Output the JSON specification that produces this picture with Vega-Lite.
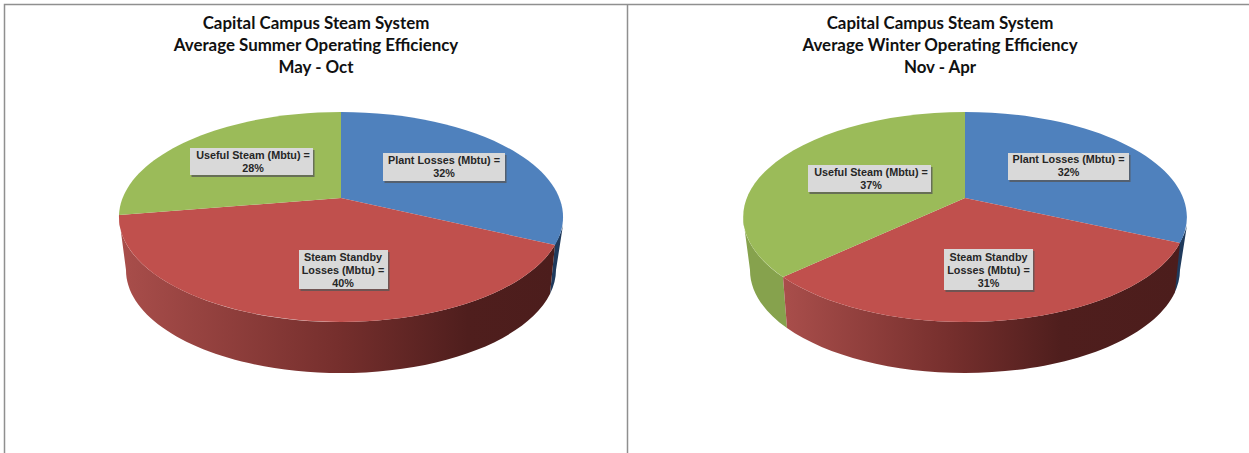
{
  "$schema": "https://vega.github.io/schema/vega-lite/v6.json",
  "width": 1249,
  "height": 453,
  "padding": 0,
  "autosize": "none",
  "background": "white",
  "config": {"view": {"stroke": null}},
  "resolve": {"scale": {"shape": "independent", "fill": "independent"}},
  "data": {"values": [
    {"panel": "Summer", "slice": "Plant", "share": 32, "key": "Summer Plant", "label": "Plant Losses (Mbtu) =\n32%"},
    {"panel": "Summer", "slice": "Standby", "share": 40, "key": "Summer Standby", "label": "Steam Standby\nLosses (Mbtu) =\n40%"},
    {"panel": "Summer", "slice": "Useful", "share": 28, "key": "Summer Useful", "label": "Useful Steam (Mbtu) =\n28%"},
    {"panel": "Winter", "slice": "Plant", "share": 32, "key": "Winter Plant", "label": "Plant Losses (Mbtu) =\n32%"},
    {"panel": "Winter", "slice": "Standby", "share": 31, "key": "Winter Standby", "label": "Steam Standby\nLosses (Mbtu) =\n31%"},
    {"panel": "Winter", "slice": "Useful", "share": 37, "key": "Winter Useful", "label": "Useful Steam (Mbtu) =\n37%"}
  ]},
  "encoding": {
    "x": {"field": "panel", "type": "nominal", "axis": null,
      "scale": {"type": "point", "domain": ["Summer", "Winter"], "range": [341, 965], "padding": 0}}
  },
  "layer": [
    {
      "transform": [{"filter": "datum.key === 'Summer Plant'"}],
      "mark": {"type": "point", "filled": false, "opacity": 1, "yOffset": -9.5, "stroke": "#8f8f8f", "strokeWidth": 1.5,
        "shape": "M-336.5,236 L-336.5,-212.5 L908,-212.5 M286.5,-212.5 L286.5,236"},
      "encoding": {"size": {"value": 4}}
    },
    {
      "transform": [{"filter": "datum.key === 'Summer Plant' || datum.key === 'Winter Plant'"}],
      "mark": {"type": "point", "filled": true, "opacity": 1, "yOffset": -9.5, "fill": "#1f3a5c",
        "shape": "M222,8 L215,53 A215,103 0 0 1 209,77 L214,27 A222,105 0 0 0 222,8 Z"},
      "encoding": {"size": {"value": 4}}
    },
    {
      "transform": [{"filter": "datum.key === 'Winter Useful'"}],
      "mark": {"type": "point", "filled": true, "opacity": 1, "yOffset": -9.5, "fill": "#86a24d",
        "shape": "M-222,0 A222,105 0 0 0 -182,60 L-178,111 A215,103 0 0 1 -215,53 Z"},
      "encoding": {"size": {"value": 4}}
    },
    {
      "transform": [{"filter": "datum.key === 'Summer Standby'"}],
      "mark": {"type": "point", "filled": true, "opacity": 1, "yOffset": -9.5,
        "shape": "M214,28 A222,105 0 0 1 0,105 A222,105 0 0 1 -222,0 L-215,53 A215,103 0 0 0 0,156 A215,103 0 0 0 209,77 Z",
        "fill": {"gradient": "linear", "x1": 0, "x2": 1, "y1": 0, "y2": 0, "stops": [
          {"offset": 0, "color": "#a94e4b"},
          {"offset": 0.5, "color": "#762f2d"},
          {"offset": 0.8, "color": "#4f1e1d"},
          {"offset": 1, "color": "#4c1d1c"}
        ]}},
      "encoding": {"size": {"value": 4}}
    },
    {
      "transform": [{"filter": "datum.key === 'Winter Standby'"}],
      "mark": {"type": "point", "filled": true, "opacity": 1, "yOffset": -9.5,
        "shape": "M215,26 A222,105 0 0 1 0,105 A222,105 0 0 1 -182,60 L-178,111 A215,103 0 0 0 0,156 A215,103 0 0 0 210,75 Z",
        "fill": {"gradient": "linear", "x1": 0, "x2": 1, "y1": 0, "y2": 0, "stops": [
          {"offset": 0, "color": "#a94e4b"},
          {"offset": 0.42, "color": "#762f2d"},
          {"offset": 0.7, "color": "#4f1e1d"},
          {"offset": 1, "color": "#4c1d1c"}
        ]}},
      "encoding": {"size": {"value": 4}}
    },
    {
      "mark": {"type": "point", "filled": true, "opacity": 1, "yOffset": -9.5},
      "encoding": {
        "size": {"value": 4},
        "shape": {"field": "key", "type": "nominal", "legend": null, "scale": {
          "domain": ["Summer Plant", "Summer Standby", "Summer Useful", "Winter Plant", "Winter Standby", "Winter Useful"],
          "range": [
            "M0,-19 L0,-105 A222,105 0 0 1 214,28 Z",
            "M214,28 A222,105 0 0 1 0,105 A222,105 0 0 1 -222,-2 L0,-19 Z",
            "M-222,-2 A222,105 0 0 1 0,-105 L0,-19 Z",
            "M0,-19 L0,-105 A222,105 0 0 1 215,26 Z",
            "M215,26 A222,105 0 0 1 0,105 A222,105 0 0 1 -182,60 L0,-19 Z",
            "M-182,60 A222,105 0 0 1 0,-105 L0,-19 Z"
          ]}},
        "fill": {"field": "slice", "type": "nominal", "legend": null, "scale": {
          "domain": ["Plant", "Standby", "Useful"],
          "range": ["#4f81bd", "#c0504d", "#9bbb59"]}}
      }
    },
    {
      "mark": {"type": "point", "filled": true, "opacity": 0.75, "yOffset": -7.5, "xOffset": 1.5, "fill": "#555555"},
      "encoding": {
        "size": {"value": 4},
        "shape": {"field": "key", "type": "nominal", "legend": null, "scale": {
          "domain": ["Summer Plant", "Summer Standby", "Summer Useful", "Winter Plant", "Winter Standby", "Winter Useful"],
          "range": [
            "M42,-64 H164 V-36 H42 Z",
            "M-42,33 H47 V72 H-42 Z",
            "M-151,-69 H-28 V-42 H-151 Z",
            "M43,-64 H164 V-37 H43 Z",
            "M-21,32 H68 V73 H-21 Z",
            "M-157,-52 H-34 V-25 H-157 Z"
          ]}}
      }
    },
    {
      "mark": {"type": "point", "filled": true, "opacity": 1, "yOffset": -9.5, "fill": "#d9d9d9"},
      "encoding": {
        "size": {"value": 4},
        "shape": {"field": "key", "type": "nominal", "legend": null, "scale": {
          "domain": ["Summer Plant", "Summer Standby", "Summer Useful", "Winter Plant", "Winter Standby", "Winter Useful"],
          "range": [
            "M42,-64 H164 V-36 H42 Z",
            "M-42,33 H47 V72 H-42 Z",
            "M-151,-69 H-28 V-42 H-151 Z",
            "M43,-64 H164 V-37 H43 Z",
            "M-21,32 H68 V73 H-21 Z",
            "M-157,-52 H-34 V-25 H-157 Z"
          ]}}
      }
    },
    {
      "transform": [{"filter": "datum.key === 'Summer Plant'"}],
      "mark": {"type": "text", "font": "Liberation Sans", "fontWeight": "bold", "fontSize": 10.8, "lineHeight": 13, "lineBreak": "\n", "color": "#262626", "align": "center", "baseline": "alphabetic", "dx": 103, "dy": -62.5},
      "encoding": {"text": {"field": "label"}}
    },
    {
      "transform": [{"filter": "datum.key === 'Summer Standby'"}],
      "mark": {"type": "text", "font": "Liberation Sans", "fontWeight": "bold", "fontSize": 10.8, "lineHeight": 13, "lineBreak": "\n", "color": "#262626", "align": "center", "baseline": "alphabetic", "dx": 2, "dy": 34.5},
      "encoding": {"text": {"field": "label"}}
    },
    {
      "transform": [{"filter": "datum.key === 'Summer Useful'"}],
      "mark": {"type": "text", "font": "Liberation Sans", "fontWeight": "bold", "fontSize": 10.8, "lineHeight": 13, "lineBreak": "\n", "color": "#262626", "align": "center", "baseline": "alphabetic", "dx": -88, "dy": -67.5},
      "encoding": {"text": {"field": "label"}}
    },
    {
      "transform": [{"filter": "datum.key === 'Winter Plant'"}],
      "mark": {"type": "text", "font": "Liberation Sans", "fontWeight": "bold", "fontSize": 10.8, "lineHeight": 13, "lineBreak": "\n", "color": "#262626", "align": "center", "baseline": "alphabetic", "dx": 103.5, "dy": -63.5},
      "encoding": {"text": {"field": "label"}}
    },
    {
      "transform": [{"filter": "datum.key === 'Winter Standby'"}],
      "mark": {"type": "text", "font": "Liberation Sans", "fontWeight": "bold", "fontSize": 10.8, "lineHeight": 13, "lineBreak": "\n", "color": "#262626", "align": "center", "baseline": "alphabetic", "dx": 23.5, "dy": 34.5},
      "encoding": {"text": {"field": "label"}}
    },
    {
      "transform": [{"filter": "datum.key === 'Winter Useful'"}],
      "mark": {"type": "text", "font": "Liberation Sans", "fontWeight": "bold", "fontSize": 10.8, "lineHeight": 13, "lineBreak": "\n", "color": "#262626", "align": "center", "baseline": "alphabetic", "dx": -94, "dy": -50.5},
      "encoding": {"text": {"field": "label"}}
    },
    {
      "data": {"values": [
        {"panel": "Summer", "heading": "Capital Campus Steam System\nAverage Summer Operating Efficiency\nMay - Oct"},
        {"panel": "Winter", "heading": "Capital Campus Steam System\nAverage Winter Operating Efficiency\nNov - Apr"}
      ]},
      "mark": {"type": "text", "font": "Lato", "fontWeight": "bold", "fontSize": 16.9, "lineHeight": 22, "lineBreak": "\n", "color": "#111111", "align": "center", "baseline": "alphabetic", "dx": -25, "dy": -197.5},
      "encoding": {"text": {"field": "heading"}}
    }
  ]
}
